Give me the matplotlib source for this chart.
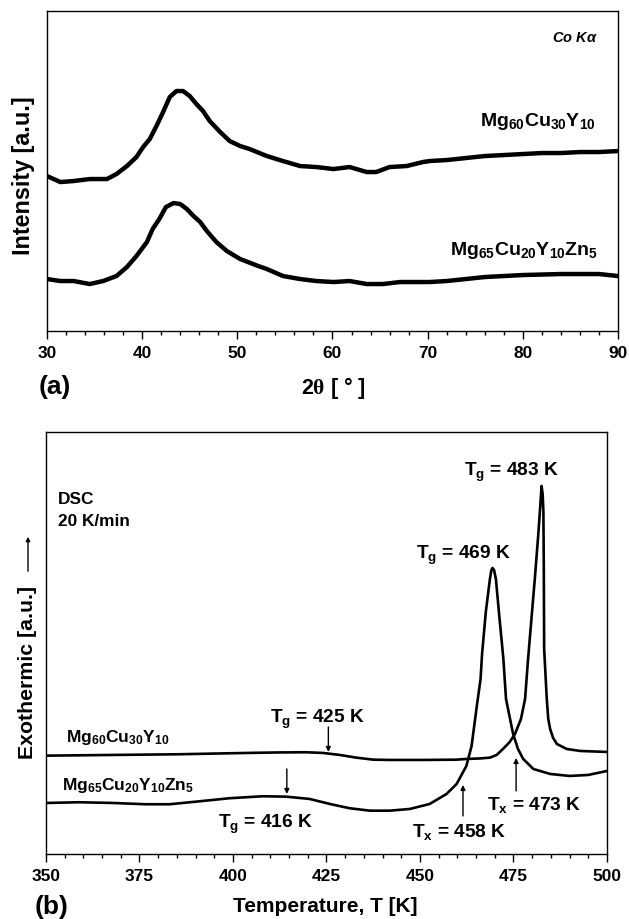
import matplotlib
matplotlib.use('Agg')
import matplotlib.pyplot as plt
from matplotlib.ticker import MultipleLocator

plt.rcParams['font.family'] = ['Liberation Sans', 'DejaVu Sans']
plt.rcParams['font.weight'] = 'bold'
plt.rcParams['mathtext.fontset'] = 'custom'
plt.rcParams['mathtext.rm'] = 'Liberation Sans:bold'
plt.rcParams['mathtext.it'] = 'Liberation Sans:bold:italic'
plt.rcParams['mathtext.bf'] = 'Liberation Sans:bold'
plt.rcParams['mathtext.sf'] = 'Liberation Serif'
plt.rcParams['mathtext.default'] = 'rm'

# --- (a) XRD, Co K-alpha ---
xrd_2theta_1 = [30, 31.4, 32.8, 34.5, 36.3, 37.3, 38.4, 39.4, 40.1, 40.8, 41.5, 42.2, 42.9,
                43.6, 44.3, 45.0, 45.7, 46.4, 47.1, 48.2, 49.2, 50.3, 51.3, 53.1, 54.8,
                56.6, 58.3, 60.1, 61.8, 63.6, 64.6, 66.0, 67.8, 69.5, 70.2, 72, 74, 76,
                78, 80, 82, 84, 86, 88, 90]
xrd_int_1 = [155, 149, 150, 152, 152, 157, 165, 174, 184, 192, 205, 219, 234,
             240, 240, 235, 227, 220, 210, 199, 190, 185, 182, 175, 170,
             165, 164, 162, 164, 159, 159, 164, 165, 169, 170, 171, 173, 175,
             176, 177, 178, 178, 179, 179, 180]

xrd_2theta_2 = [30, 31.4, 32.8, 34.5, 35.9, 37.3, 38.4, 39.4, 40.5, 41.1, 41.8, 42.5, 43.3,
                44.0, 44.7, 45.4, 46.1, 46.8, 47.8, 48.9, 50.3, 52.2, 53.1, 54.8, 56.6,
                58.3, 60.1, 61.8, 63.6, 65.3, 67.1, 68.9, 70.2, 72, 74, 76, 78, 80,
                84, 88, 90]
xrd_int_2 = [52, 50, 50, 47, 50, 55, 64, 75, 89, 102, 112, 124, 128,
             127, 122, 115, 109, 100, 89, 80, 72, 65, 62, 55, 52,
             50, 49, 50, 47, 47, 49, 49, 49, 50, 52, 54, 55, 56,
             57, 57, 55]

# --- (b) DSC, 20 K/min ---
dsc_T_1 = [350, 367.8, 385.6, 403.5, 412, 419.5, 424.1, 428.6, 433, 437.5, 442, 450.9,
           459.8, 462.4, 466, 468.7, 470.5, 472.2, 474, 475.4, 477.0, 478.1, 478.9,
           479.8, 480.7, 481.6, 482.2, 482.5, 482.8, 483.0, 483.1, 483.2, 483.9, 484.3,
           484.8, 485.6, 486.6, 489.2, 492.8, 500]
dsc_hf_1 = [98.3, 99, 99.7, 101, 101.5, 101.7, 101, 99, 96.3, 94.3, 94, 94,
            94.3, 95, 95.5, 96.3, 99, 105, 112, 120, 135, 155, 195,
            235, 275, 318, 350, 368, 360, 342, 290, 205, 155, 135,
            125, 116, 110, 105, 103, 102]

dsc_T_2 = [350, 358.9, 367.8, 376.7, 383, 390.1, 399, 407.9, 414.2, 420.5, 425.9, 431.2,
           436.6, 442, 447.3, 452.6, 457.1, 459.8, 462.4, 463.8, 465.2, 466.2, 466.6,
           467.6, 468.7, 469.1, 469.4, 469.8, 470.3, 471.1, 472.3, 473.0, 474.9, 476.2,
           477.6, 480.3, 484.8, 490, 495, 500]
dsc_hf_2 = [51, 51.7, 51, 49.7, 49.7, 52.3, 55.7, 57.7, 57.3, 55, 50, 45.7,
            43.3, 43.3, 45, 50, 60, 70, 88, 108, 148, 175, 200,
            242, 275, 284, 286, 284, 275, 242, 195, 155, 120, 105,
            95, 85, 80, 78, 79, 83]

fig = plt.figure(figsize=(6.29, 9.2), dpi=100)

ax1 = fig.add_axes([0.0747, 0.6391, 0.9078, 0.3478])
ax1.plot(xrd_2theta_1, xrd_int_1, color='black', lw=3.2, solid_joinstyle='round')
ax1.plot(xrd_2theta_2, xrd_int_2, color='black', lw=3.2, solid_joinstyle='round')
ax1.set_xlim(30, 90)
ax1.set_ylim(0, 320)
ax1.set_yticks([])
ax1.xaxis.set_major_locator(MultipleLocator(10))
ax1.xaxis.set_minor_locator(MultipleLocator(2))
ax1.text(85.5, 294, 'Co K$\\it{\\alpha}$', fontsize=10.5, style='italic', ha='center', va='center')
ax1.text(87.7, 206, 'Mg$_{60}$Cu$_{30}$Y$_{10}$', fontsize=14, ha='right', va='baseline')
ax1.text(87.9, 77, 'Mg$_{65}$Cu$_{20}$Y$_{10}$Zn$_{5}$', fontsize=14, ha='right', va='baseline')

ax2 = fig.add_axes([0.0731, 0.0707, 0.8919, 0.4587])
ax2.plot(dsc_T_1, dsc_hf_1, color='black', lw=1.9, solid_joinstyle='round')
ax2.plot(dsc_T_2, dsc_hf_2, color='black', lw=1.9, solid_joinstyle='round')
ax2.set_xlim(350, 500)
ax2.set_ylim(0, 422)
ax2.set_yticks([])
ax2.xaxis.set_major_locator(MultipleLocator(25))
ax2.xaxis.set_minor_locator(MultipleLocator(5))

ax2.text(353.2, 355, 'DSC', fontsize=12.4, va='center')
ax2.text(353.2, 333, '20 K/min', fontsize=12.4, va='center')
ax2.text(355.3, 113, 'Mg$_{60}$Cu$_{30}$Y$_{10}$', fontsize=12.5, va='baseline')
ax2.text(354.3, 65, 'Mg$_{65}$Cu$_{20}$Y$_{10}$Zn$_{5}$', fontsize=12.5, va='baseline')

ann_fs = 13.8
ax2.text(474.6, 379, 'T$_g$ = 483 K', fontsize=ann_fs, ha='center', va='baseline')
ax2.text(461.6, 296, 'T$_g$ = 469 K', fontsize=ann_fs, ha='center', va='baseline')
ax2.text(422.7, 132, 'T$_g$ = 425 K', fontsize=ann_fs, ha='center', va='baseline')
ax2.text(408.6, 27, 'T$_g$ = 416 K', fontsize=ann_fs, ha='center', va='baseline')
ax2.text(460.4, 18, 'T$_x$ = 458 K', fontsize=ann_fs, ha='center', va='baseline')
ax2.text(480.5, 45, 'T$_x$ = 473 K', fontsize=ann_fs, ha='center', va='baseline')

arrow = dict(arrowstyle='-|>', color='black', lw=1.0, mutation_scale=7, shrinkA=0, shrinkB=0)
ax2.annotate('', xy=(425.5, 102), xytext=(425.5, 127), arrowprops=arrow)
ax2.annotate('', xy=(414.4, 60), xytext=(414.4, 85), arrowprops=arrow)
ax2.annotate('', xy=(461.5, 69), xytext=(461.5, 38), arrowprops=arrow)
ax2.annotate('', xy=(475.7, 96), xytext=(475.7, 63), arrowprops=arrow)

for ax in (ax1, ax2):
    for s in ax.spines.values():
        s.set_linewidth(1.0)
    ax.tick_params(axis='x', which='major', direction='out', length=6, width=1,
                   labelsize=12.5, pad=4)
    ax.tick_params(axis='x', which='minor', direction='out', length=3, width=1)
    for lab in ax.get_xticklabels():
        lab.set_fontweight('bold')

# axis titles placed in figure pixels
W, H = 629, 920
fig.text(24 / W, 1 - 176 / H, 'Intensity [a.u.]', rotation=90, fontsize=16.8,
         ha='center', va='center')
fig.text(333 / W, 1 - 388 / H, '2$\\mathsf{\\theta}$ [ ° ]', fontsize=15.5, ha='center', va='center')
fig.text(39 / W, 1 - 387 / H, '(a)', fontsize=19, ha='left', va='center')

fig.text(28 / W, 1 - 672 / H, 'Exothermic [a.u.]', rotation=90, fontsize=15.3,
         ha='center', va='center')
fig.patches.append(matplotlib.patches.FancyArrowPatch(
    (28 / W, 1 - 575 / H), (28 / W, 1 - 535 / H), transform=fig.transFigure,
    arrowstyle='-|>', mutation_scale=6, lw=1.0, color='black'))
fig.text(325 / W, 1 - 907 / H, 'Temperature, T [K]', fontsize=15, ha='center', va='center')
fig.text(35 / W, 1 - 907 / H, '(b)', fontsize=19, ha='left', va='center')

fig.savefig('out.png', dpi=100)
